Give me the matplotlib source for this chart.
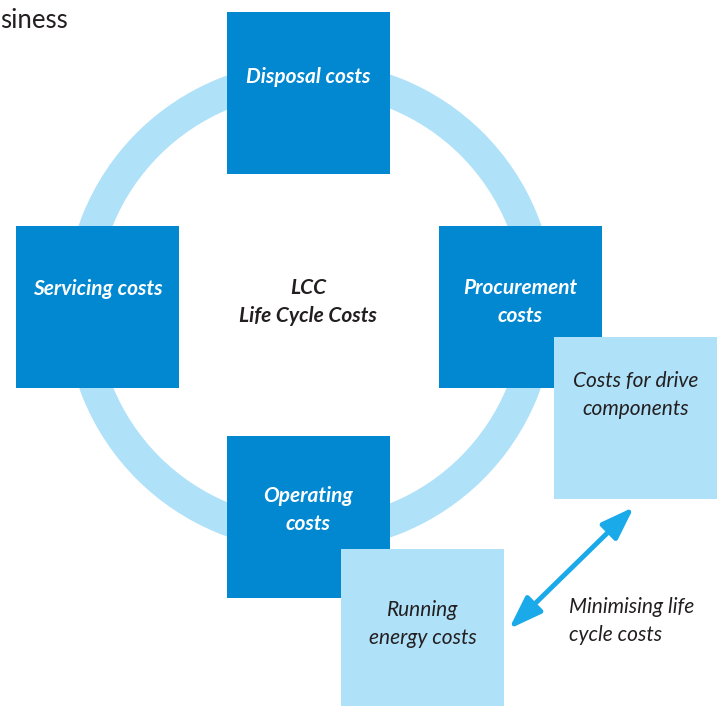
import matplotlib.pyplot as plt
from matplotlib.patches import Rectangle, Wedge, FancyArrowPatch

plt.rcParams['font.family'] = ['Lato', 'DejaVu Sans']

# dark blue cost boxes around the ring (centre x, centre y in px)
dark_labels = ['Disposal costs', 'Servicing costs', 'Procurement\ncosts', 'Operating\ncosts']
dark_x = [308.5, 97.5, 520.5, 308.5]
dark_y = [93, 307, 307, 516.5]
dark_text_y = [77, 289, 302, 510]

# light blue detail boxes
light_labels = ['Costs for drive\ncomponents', 'Running\nenergy costs']
light_x = [635.5, 422.5]
light_y = [418, 630]
light_text_y = [395, 624]

centre_label = 'LCC\nLife Cycle Costs'
arrow_label = 'Minimising life\ncycle costs'
corner_text = 'siness'

dark_blue = '#0288d1'
light_blue = '#afe1f8'
arrow_blue = '#1aa9e9'
text_dark = '#231f20'

box_w, box_h = 163, 162
fs = 15
ls = 1.5

fig = plt.figure(figsize=(7.24, 7.06), dpi=100)
ax = fig.add_axes([0, 0, 1, 1])
ax.set_xlim(0, 724)
ax.set_ylim(706, 0)
ax.axis('off')

# the ring
ax.add_patch(Wedge((310, 306), 245, 0, 360, width=32, color=light_blue, lw=0, zorder=1))

for lab, x, y, ty in zip(dark_labels, dark_x, dark_y, dark_text_y):
    ax.add_patch(Rectangle((x - box_w / 2, y - box_h / 2), box_w, box_h,
                           color=dark_blue, lw=0, zorder=2))
    ax.text(x, ty, lab, color='white', fontsize=fs, fontweight='bold', style='italic',
            ha='center', va='center', linespacing=ls, zorder=5)

for lab, x, y, ty in zip(light_labels, light_x, light_y, light_text_y):
    ax.add_patch(Rectangle((x - box_w / 2, y - box_h / 2), box_w, box_h,
                           color=light_blue, lw=0, zorder=3))
    ax.text(x, ty, lab, color=text_dark, fontsize=fs, style='italic',
            ha='center', va='center', linespacing=ls, zorder=5)

ax.text(308, 302, centre_label, color=text_dark, fontsize=fs, fontweight='bold',
        style='italic', ha='center', va='center', linespacing=ls, zorder=5)

ax.text(569, 621, arrow_label, color=text_dark, fontsize=fs, style='italic',
        ha='left', va='center', linespacing=ls, zorder=5)

ax.text(0, 20, corner_text, color=text_dark, fontsize=18.5, ha='left', va='center')

arr = FancyArrowPatch((509, 629), (634, 507), arrowstyle='<|-|>,head_length=10,head_width=3.5',
                      color=arrow_blue, lw=3.5, mutation_scale=2, shrinkA=0, shrinkB=0, zorder=4)
ax.add_patch(arr)

fig.savefig('out.png', dpi=100)
